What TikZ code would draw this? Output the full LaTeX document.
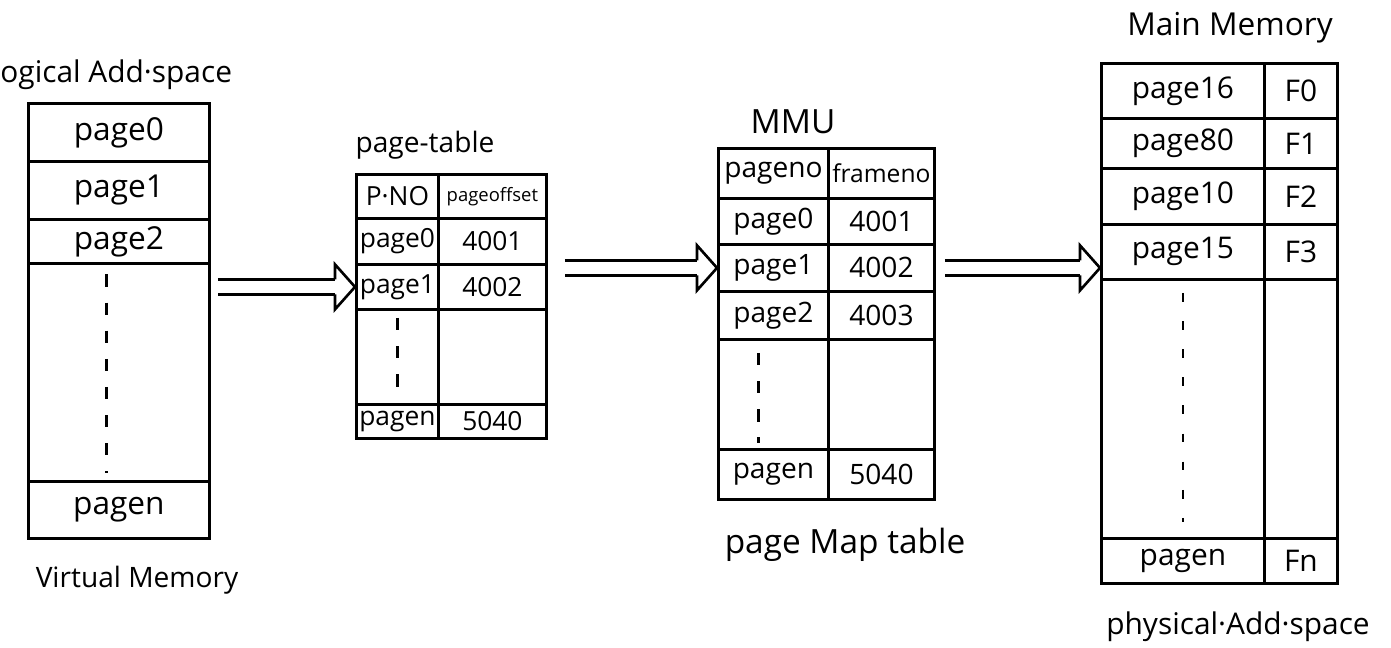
\documentclass[tikz,border=0pt]{standalone}
\usepackage{fontspec}
\setmainfont{Open Sans}
\usetikzlibrary{arrows.meta,positioning,decorations.markings}
\newcommand{\fs}[1]{\fontsize{#1}{#1}\selectfont}
\tikzset{
  cell/.style={draw,line width=1.6pt,anchor=north west,inner sep=0pt,align=center},
  imp/.style={line width=1.5pt,double,double distance=7pt,shorten >=0.4cm,
    postaction={decorate,decoration={markings,mark=at position 1 with {
      \draw[line width=1.5pt,shorten >=0pt,line join=miter]
        (-0.4cm,0.15cm) -- (-0.4cm,0.45cm) -- (0,0) -- (-0.4cm,-0.45cm) -- (-0.4cm,-0.15cm);}}}},
  elide/.style={line width=1.5pt,dash pattern=on 7pt off 9pt},
  title/.style={inner sep=0pt}
}

\begin{document}
\begin{tikzpicture}[x=0.02cm,y=-0.02cm]
\useasboundingbox[fill=white] (0,0) rectangle (1391,648);
% virtual memory
\node[title,anchor=west,font=\fs{17}] (lasp) at (0,75) {ogical Add·space};
\node[cell,font=\fs{18},minimum width=3.62cm,minimum height=1.16cm] (vm0) at (27,102) {page0};
\node[cell,font=\fs{18},minimum width=3.62cm,minimum height=1.16cm] (vm1) at (27,160) {page1};
\node[cell,font=\fs{18},minimum width=3.62cm,minimum height=0.88cm] (vm2) at (27,218) {page2};
\node[cell,minimum width=3.62cm,minimum height=4.36cm] (vmd) at (27,262) {};
\node[cell,font=\fs{18},minimum width=3.62cm,minimum height=1.14cm] (vmn) at (27,480) {pagen};
\draw[elide] ([xshift=-0.25cm,yshift=-0.25cm]vmd.north) -- ([xshift=-0.25cm,yshift=0.2cm]vmd.south);
\node[title,font=\fs{16}] (vmt) at (137,580) {Virtual Memory};
% page table
\node[title,font=\fs{16}] (ptt) at (425,145) {page-table};
\node[cell,font=\fs{15},minimum width=1.64cm,minimum height=0.88cm] (pthA) at (355,173) {P·NO};
\node[cell,font=\fs{10.5},minimum width=2.16cm,minimum height=0.88cm] (pthB) at (437,173) {pageoffset};
\node[cell,font=\fs{15},minimum width=1.64cm,minimum height=0.92cm] (pt0a) at (355,217) {page0};
\node[cell,font=\fs{15},minimum width=2.16cm,minimum height=0.92cm] (pt0b) at (437,217) {4001};
\node[cell,font=\fs{15},minimum width=1.64cm,minimum height=0.90cm] (pt1a) at (355,263) {page1};
\node[cell,font=\fs{15},minimum width=2.16cm,minimum height=0.90cm] (pt1b) at (437,263) {4002};
\node[cell,minimum width=1.64cm,minimum height=1.90cm] (ptda) at (355,308) {};
\node[cell,minimum width=2.16cm,minimum height=1.90cm] (ptdb) at (437,308) {};
\node[cell,font=\fs{15},minimum width=1.64cm,minimum height=0.68cm] (ptna) at (355,403) {pagen};
\node[cell,font=\fs{15},minimum width=2.16cm,minimum height=0.68cm] (ptnb) at (437,403) {5040};
\draw[elide] ([yshift=-0.2cm]ptda.north) -- ([yshift=0.1cm]ptda.south);
% MMU
\node[title,font=\fs{19}] (mmt) at (793,122) {MMU};
\node[cell,font=\fs{16},minimum width=2.20cm,minimum height=1.00cm] (mmhA) at (717,147) {pageno};
\node[cell,font=\fs{14},minimum width=2.12cm,minimum height=1.00cm] (mmhB) at (827,147) {frameno};
\node[cell,font=\fs{16},minimum width=2.20cm,minimum height=0.92cm] (mm0a) at (717,197) {page0};
\node[cell,font=\fs{16},minimum width=2.12cm,minimum height=0.92cm] (mm0b) at (827,197) {4001};
\node[cell,font=\fs{16},minimum width=2.20cm,minimum height=0.94cm] (mm1a) at (717,243) {page1};
\node[cell,font=\fs{16},minimum width=2.12cm,minimum height=0.94cm] (mm1b) at (827,243) {4002};
\node[cell,font=\fs{16},minimum width=2.20cm,minimum height=0.96cm] (mm2a) at (717,290) {page2};
\node[cell,font=\fs{16},minimum width=2.12cm,minimum height=0.96cm] (mm2b) at (827,290) {4003};
\node[cell,minimum width=2.20cm,minimum height=2.20cm] (mmda) at (717,338) {};
\node[cell,minimum width=2.12cm,minimum height=2.20cm] (mmdb) at (827,338) {};
\node[cell,font=\fs{16},minimum width=2.20cm,minimum height=1.00cm] (mmna) at (717,448) {pagen};
\node[cell,font=\fs{16},minimum width=2.12cm,minimum height=1.00cm] (mmnb) at (827,448) {5040};
\draw[elide] ([xshift=-0.3cm,yshift=-0.3cm]mmda.north) -- ([xshift=-0.3cm,yshift=0.16cm]mmda.south);
\node[title,font=\fs{19}] (mmp) at (845,545) {page Map table};
% main memory
\node[title,font=\fs{18}] (memt) at (1230,28) {Main Memory};
\node[cell,font=\fs{17},minimum width=3.26cm,minimum height=1.10cm] (m0a) at (1100,62) {page16};
\node[cell,font=\fs{17},minimum width=1.46cm,minimum height=1.10cm] (m0b) at (1263,62) {F0};
\node[cell,font=\fs{17},minimum width=3.26cm,minimum height=1.00cm] (m1a) at (1100,117) {page80};
\node[cell,font=\fs{17},minimum width=1.46cm,minimum height=1.00cm] (m1b) at (1263,117) {F1};
\node[cell,font=\fs{17},minimum width=3.26cm,minimum height=1.12cm] (m2a) at (1100,167) {page10};
\node[cell,font=\fs{17},minimum width=1.46cm,minimum height=1.12cm] (m2b) at (1263,167) {F2};
\node[cell,font=\fs{17},minimum width=3.26cm,minimum height=1.10cm] (m3a) at (1100,223) {page15};
\node[cell,font=\fs{17},minimum width=1.46cm,minimum height=1.10cm] (m3b) at (1263,223) {F3};
\node[cell,minimum width=3.26cm,minimum height=5.18cm] (mda) at (1100,278) {};
\node[cell,minimum width=1.46cm,minimum height=5.18cm] (mdb) at (1263,278) {};
\node[cell,font=\fs{17},minimum width=3.26cm,minimum height=0.90cm] (mna) at (1100,537) {pagen};
\node[cell,font=\fs{17},minimum width=1.46cm,minimum height=0.90cm] (mnb) at (1263,537) {Fn};
\draw[elide,dash pattern=on 5pt off 11pt] ([yshift=-0.3cm]mda.north) -- ([yshift=0.35cm]mda.south);
\node[title,font=\fs{17}] (pasp) at (1238,627) {physical·Add·space};
% arrows
\draw[imp] ([xshift=0.14cm]vmd.east |- pt1a.west) -- (pt1a.west);
\draw[imp] ([xshift=0.34cm]pt1b.east |- mm1a.west) -- (mm1a.west);
\draw[imp] ([xshift=0.18cm]mm1b.east) -- (m3a.west |- mm1b.east);
\end{tikzpicture}
\end{document}
